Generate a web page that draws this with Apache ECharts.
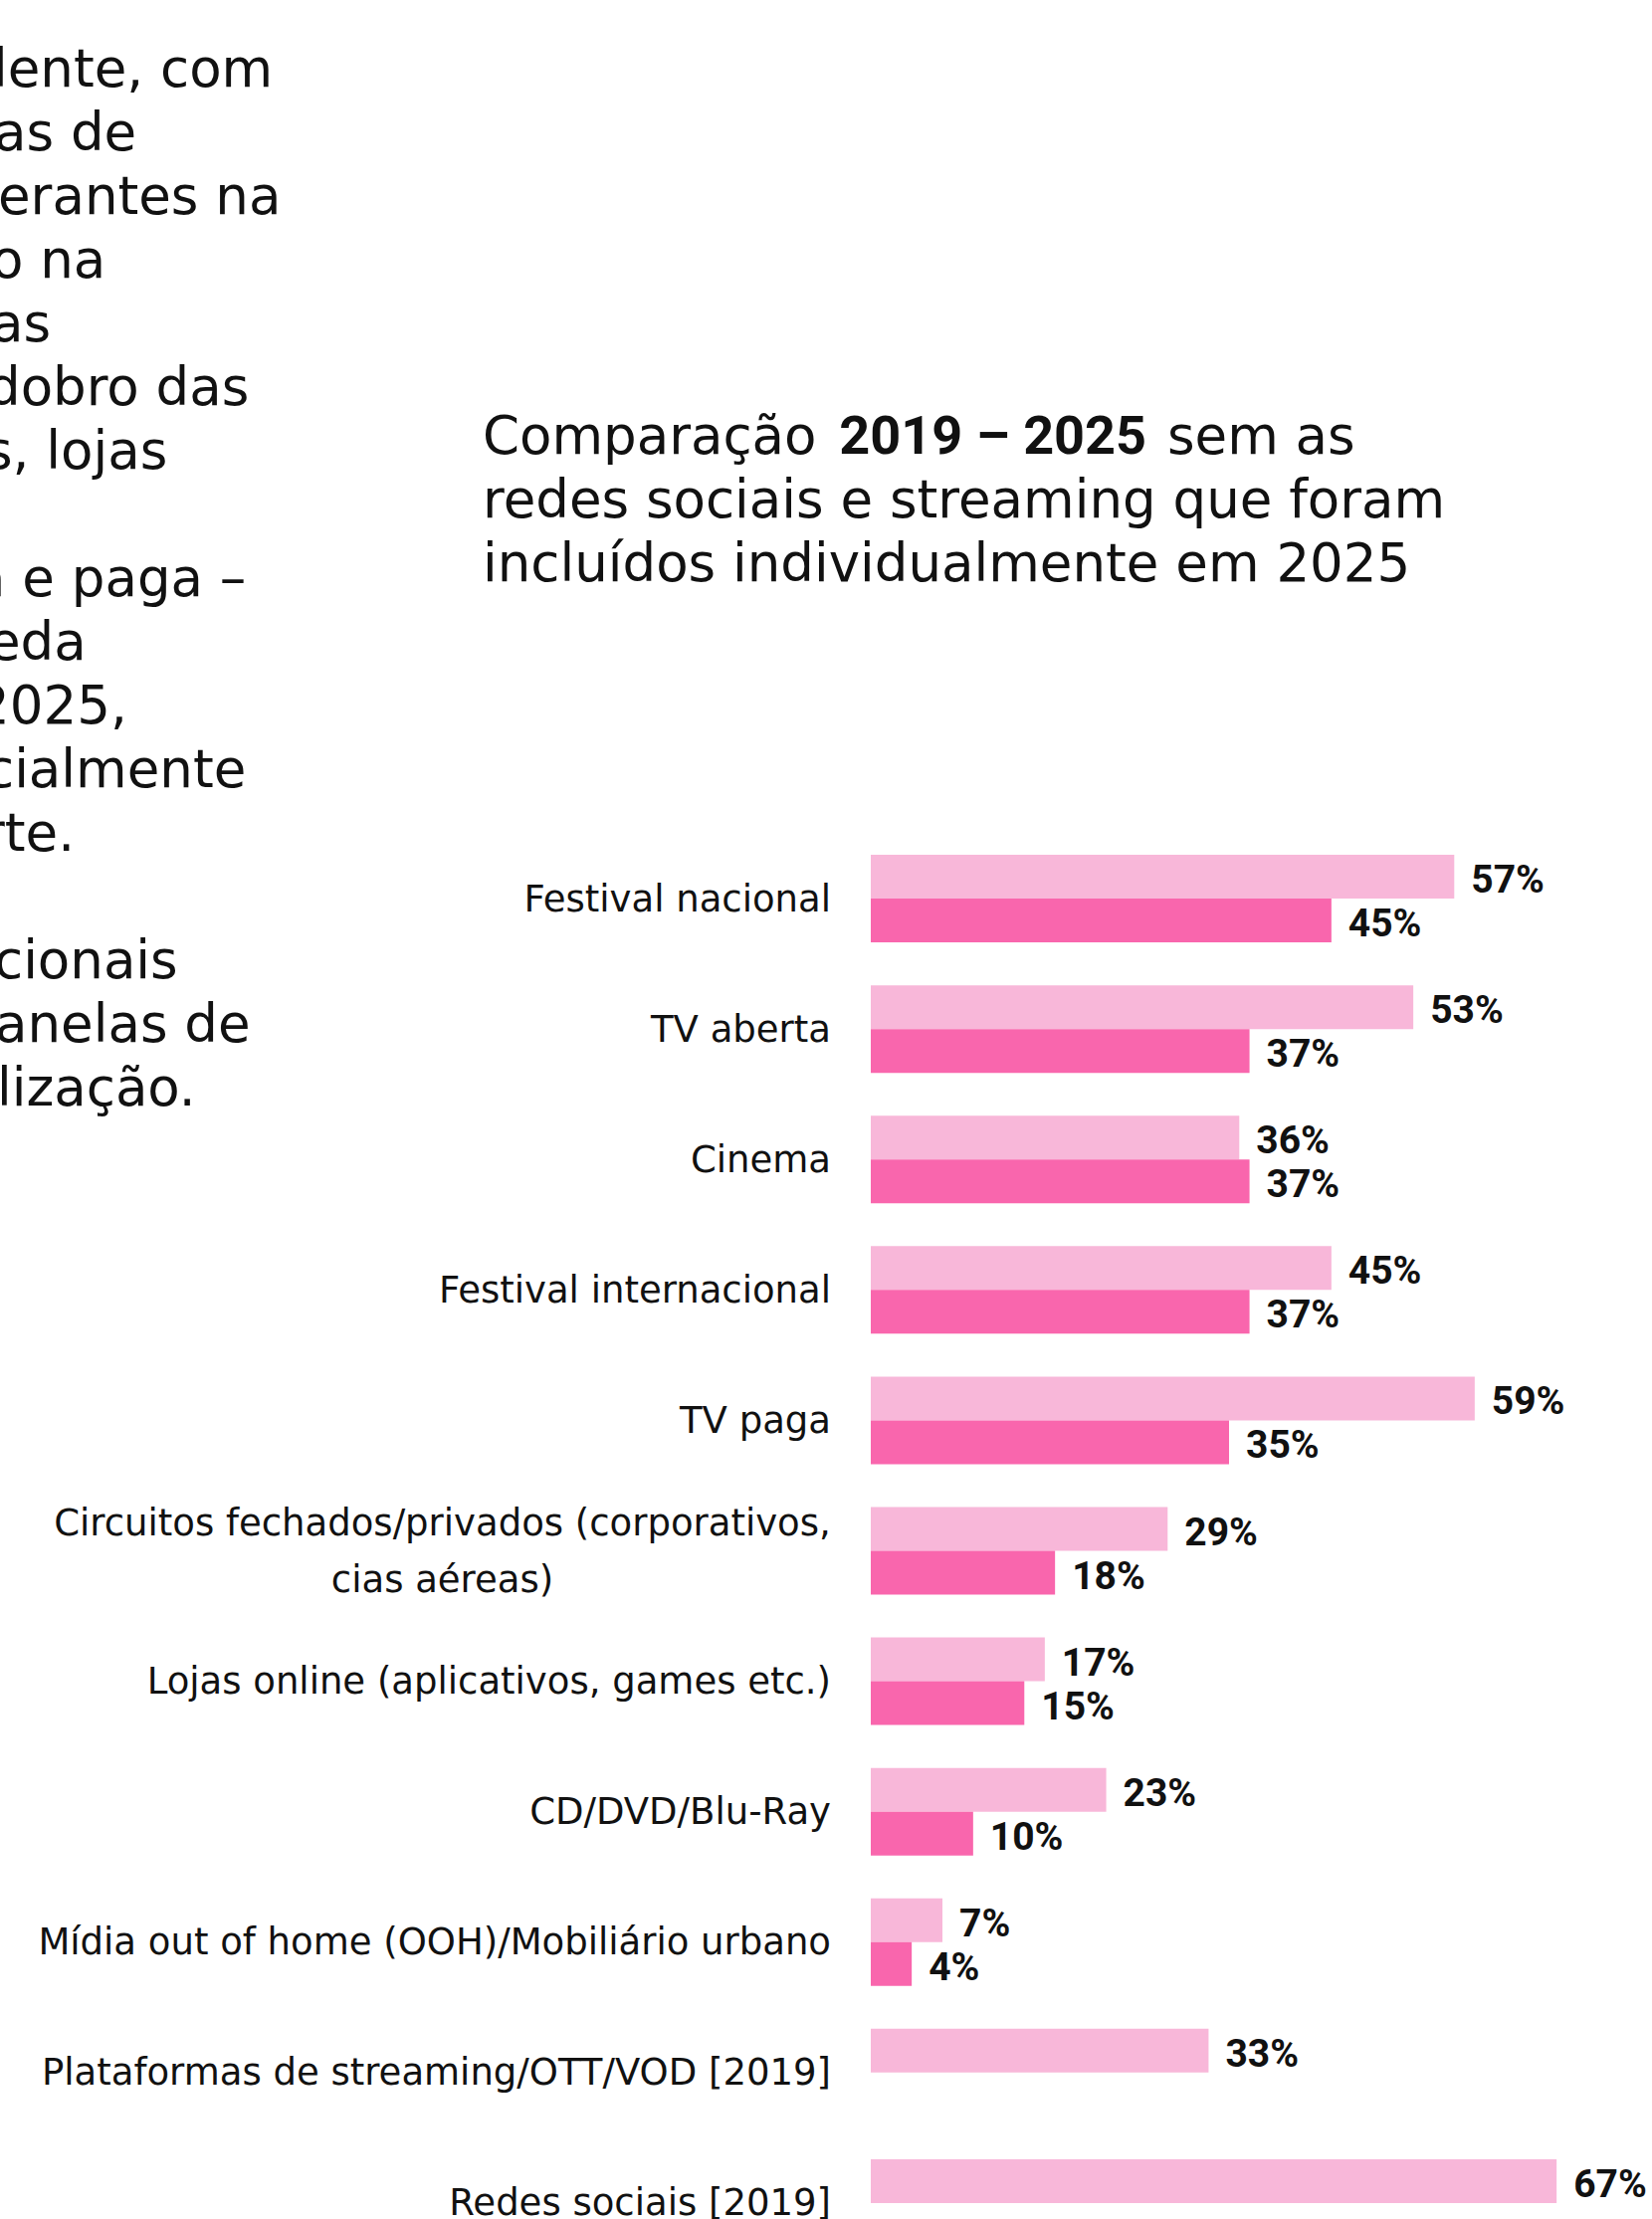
<!DOCTYPE html>
<html lang="pt-BR">
<head>
<meta charset="utf-8">
<title>Comparação 2019 – 2025</title>
<script src="https://cdn.jsdelivr.net/npm/echarts@6/dist/echarts.min.js"></script>
<style>
  html, body { margin: 0; padding: 0; background: #ffffff; overflow: hidden; }
  #chart { width: 1660px; height: 2230px; }
</style>
</head>
<body>
<div id="chart"></div>
<script>
// ---- data ----
const categories = [
  'Festival nacional',
  'TV aberta',
  'Cinema',
  'Festival internacional',
  'TV paga',
  'Circuitos fechados/privados (corporativos,\ncias aéreas)',
  'Lojas online (aplicativos, games etc.)',
  'CD/DVD/Blu-Ray',
  'Mídia out of home (OOH)/Mobiliário urbano',
  'Plataformas de streaming/OTT/VOD [2019]',
  'Redes sociais [2019]'
];
const values2019 = [57, 53, 36, 45, 59, 29, 17, 23, 7, 33, 67];
const values2025 = [45, 37, 37, 37, 35, 18, 15, 10, 4, '-', '-'];

const titleLines = [
  'Comparação {b|2019 – 2025} sem as',
  'redes sociais e streaming que foram',
  'incluídos individualmente em 2025'
];

// column text running in from the left edge of the page
const bodyLines = [
  'lente, com', 'as de', 'erantes na', 'o na', 'as', 'dobro das', 's, lojas', '',
  'a e paga –', 'eda', '2025,', 'cialmente', 'rte.', '',
  'cionais', 'anelas de', 'lização.'
];
const bodyLineShift = [-7, -6, -2, -9, -9, -13, -15, 0, -27, -12, -24, -15, -17, 0, -6, -5, -3];

// ---- styles ----
const SANS = '"DejaVu Sans", sans-serif';
const BOLD_NUM = 'Roboto, "DejaVu Sans", sans-serif';
const COLOR_2019 = '#F8B7D9';
const COLOR_2025 = '#F966AD';
const INK = '#111111';

const LABEL_SIZE = 37;
const BODY_SIZE = 53;
const BODY_LINE = 64;

function textWidth(str, font) {
  const ctx = document.createElement('canvas').getContext('2d');
  ctx.font = font;
  return Math.ceil(ctx.measureText(str).width);
}

// widest line of the wrapped category names, used to centre their lines
let wrapWidth = 0;
categories.forEach(c => {
  if (c.indexOf('\n') >= 0) {
    c.split('\n').forEach(line => {
      wrapWidth = Math.max(wrapWidth, textWidth(line, LABEL_SIZE + 'px "DejaVu Sans"'));
    });
  }
});

const bodyGraphics = [];
bodyLines.forEach((t, i) => {
  if (!t) return;
  bodyGraphics.push({
    type: 'text',
    x: bodyLineShift[i],
    y: 87 + i * BODY_LINE - 18.4,
    style: {
      text: t,
      fontFamily: SANS,
      fontSize: BODY_SIZE,
      fill: INK,
      align: 'left',
      verticalAlign: 'middle'
    }
  });
});

const valueLabel = {
  show: true,
  position: 'right',
  distance: 17,
  offset: [0, 3],
  formatter: p => p.value + '%',
  fontFamily: BOLD_NUM,
  fontWeight: 700,
  fontSize: 39,
  color: INK
};

const chart = echarts.init(document.getElementById('chart'), null, {
  renderer: 'svg', width: 1660, height: 2230
});

chart.setOption({
  backgroundColor: '#ffffff',
  animation: false,
  title: {
    text: titleLines.join('\n'),
    left: 485,
    top: 405,
    padding: 0,
    textStyle: {
      fontFamily: SANS,
      fontSize: BODY_SIZE,
      fontWeight: 'normal',
      color: INK,
      lineHeight: BODY_LINE,
      rich: {
        b: {
          fontFamily: BOLD_NUM,
          fontWeight: 700,
          fontSize: 54,
          lineHeight: BODY_LINE,
          padding: [0, 4, 0, 6],
          color: INK
        }
      }
    }
  },
  graphic: bodyGraphics,
  grid: {
    left: 875,
    top: 837.5,
    width: 720,
    height: 1442,
    containLabel: false,
    outerBoundsMode: 'none'
  },
  xAxis: {
    type: 'value',
    min: 0,
    max: 70,
    show: false,
    splitLine: { show: false }
  },
  yAxis: {
    type: 'category',
    inverse: true,
    data: categories,
    axisLine: { show: false },
    axisTick: { show: false },
    splitLine: { show: false },
    axisLabel: {
      interval: 0,
      margin: 40,
      fontFamily: SANS,
      fontSize: LABEL_SIZE,
      color: INK,
      lineHeight: 57,
      formatter: v => {
        if (v.indexOf('\n') < 0) return v;
        return v.split('\n').map(line => '{c|' + line + '}').join('\n');
      },
      rich: {
        c: {
          width: wrapWidth,
          align: 'center',
          fontFamily: SANS,
          fontSize: LABEL_SIZE,
          lineHeight: 57,
          color: INK
        }
      }
    }
  },
  series: [
    {
      name: '2019',
      type: 'bar',
      data: values2019,
      barWidth: 44,
      barGap: '0%',
      itemStyle: { color: COLOR_2019 },
      label: valueLabel
    },
    {
      name: '2025',
      type: 'bar',
      data: values2025,
      barWidth: 44,
      barGap: '0%',
      itemStyle: { color: COLOR_2025 },
      label: valueLabel
    }
  ]
});
</script>
</body>
</html>
